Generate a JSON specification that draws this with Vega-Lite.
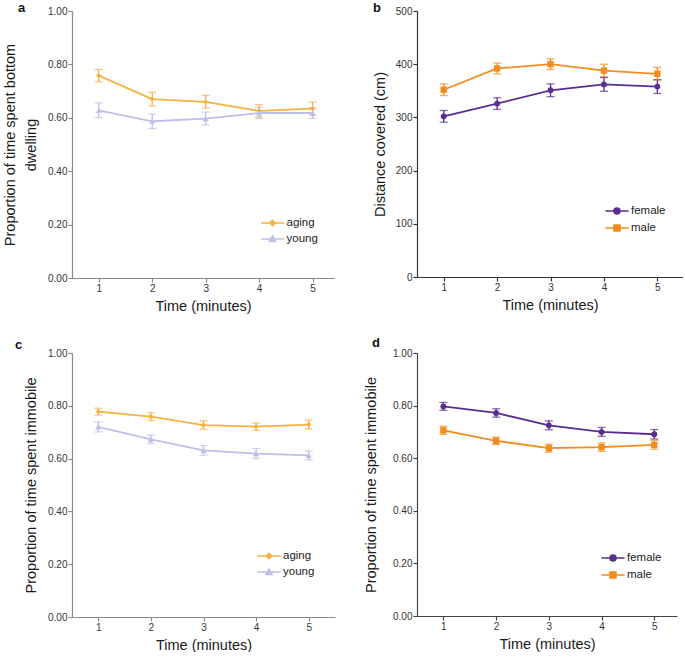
{
  "$schema": "https://vega.github.io/schema/vega-lite/v6.json",
  "padding": {"left": 2, "top": 2, "right": 0, "bottom": 0},
  "background": "white",
  "config": {
    "font": "Liberation Sans",
    "view": {"stroke": null},
    "axis": {"labelFont": "Liberation Sans", "labelFontSize": 10, "labelColor": "#333333", "titleFont": "Liberation Sans", "titleFontSize": 14.5, "titleFontWeight": "normal", "titleColor": "#1a1a1a", "tickSize": 4, "labelPadding": 1, "grid": false, "domainWidth": 1.2, "tickWidth": 1.2, "titleLineHeight": 20.6},
    "axisX": {"titlePadding": 6},
    "legend": {"labelFont": "Liberation Sans", "labelFontSize": 11.5, "labelColor": "#222222", "orient": "none", "title": null, "padding": 0, "rowPadding": 1, "symbolSize": 256, "symbolStrokeWidth": 1.5, "labelOffset": 5, "symbolOpacity": 1}
  },
  "data": {"values": [
    {"panel": "a", "time": 1, "group": "aging", "mean": 0.758, "lo": 0.735, "hi": 0.781},
    {"panel": "a", "time": 2, "group": "aging", "mean": 0.670, "lo": 0.644, "hi": 0.696},
    {"panel": "a", "time": 3, "group": "aging", "mean": 0.660, "lo": 0.636, "hi": 0.684},
    {"panel": "a", "time": 4, "group": "aging", "mean": 0.626, "lo": 0.603, "hi": 0.649},
    {"panel": "a", "time": 5, "group": "aging", "mean": 0.634, "lo": 0.609, "hi": 0.659},
    {"panel": "a", "time": 1, "group": "young", "mean": 0.628, "lo": 0.600, "hi": 0.656},
    {"panel": "a", "time": 2, "group": "young", "mean": 0.587, "lo": 0.560, "hi": 0.614},
    {"panel": "a", "time": 3, "group": "young", "mean": 0.597, "lo": 0.573, "hi": 0.621},
    {"panel": "a", "time": 4, "group": "young", "mean": 0.618, "lo": 0.597, "hi": 0.639},
    {"panel": "a", "time": 5, "group": "young", "mean": 0.618, "lo": 0.598, "hi": 0.638},
    {"panel": "b", "time": 1, "group": "female", "mean": 302, "lo": 291, "hi": 313},
    {"panel": "b", "time": 2, "group": "female", "mean": 326, "lo": 315, "hi": 337},
    {"panel": "b", "time": 3, "group": "female", "mean": 351, "lo": 339, "hi": 363},
    {"panel": "b", "time": 4, "group": "female", "mean": 362, "lo": 349, "hi": 375},
    {"panel": "b", "time": 5, "group": "female", "mean": 358, "lo": 345, "hi": 371},
    {"panel": "b", "time": 1, "group": "male", "mean": 352, "lo": 341, "hi": 363},
    {"panel": "b", "time": 2, "group": "male", "mean": 392, "lo": 382, "hi": 402},
    {"panel": "b", "time": 3, "group": "male", "mean": 400, "lo": 390, "hi": 410},
    {"panel": "b", "time": 4, "group": "male", "mean": 388, "lo": 376, "hi": 400},
    {"panel": "b", "time": 5, "group": "male", "mean": 382, "lo": 370, "hi": 394},
    {"panel": "c", "time": 1, "group": "aging", "mean": 0.778, "lo": 0.765, "hi": 0.791},
    {"panel": "c", "time": 2, "group": "aging", "mean": 0.759, "lo": 0.744, "hi": 0.774},
    {"panel": "c", "time": 3, "group": "aging", "mean": 0.727, "lo": 0.711, "hi": 0.743},
    {"panel": "c", "time": 4, "group": "aging", "mean": 0.721, "lo": 0.707, "hi": 0.735},
    {"panel": "c", "time": 5, "group": "aging", "mean": 0.729, "lo": 0.712, "hi": 0.746},
    {"panel": "c", "time": 1, "group": "young", "mean": 0.720, "lo": 0.701, "hi": 0.739},
    {"panel": "c", "time": 2, "group": "young", "mean": 0.673, "lo": 0.657, "hi": 0.689},
    {"panel": "c", "time": 3, "group": "young", "mean": 0.631, "lo": 0.613, "hi": 0.649},
    {"panel": "c", "time": 4, "group": "young", "mean": 0.619, "lo": 0.600, "hi": 0.638},
    {"panel": "c", "time": 5, "group": "young", "mean": 0.612, "lo": 0.595, "hi": 0.629},
    {"panel": "d", "time": 1, "group": "female", "mean": 0.797, "lo": 0.782, "hi": 0.812},
    {"panel": "d", "time": 2, "group": "female", "mean": 0.772, "lo": 0.756, "hi": 0.788},
    {"panel": "d", "time": 3, "group": "female", "mean": 0.725, "lo": 0.708, "hi": 0.742},
    {"panel": "d", "time": 4, "group": "female", "mean": 0.700, "lo": 0.683, "hi": 0.717},
    {"panel": "d", "time": 5, "group": "female", "mean": 0.691, "lo": 0.673, "hi": 0.709},
    {"panel": "d", "time": 1, "group": "male", "mean": 0.706, "lo": 0.691, "hi": 0.721},
    {"panel": "d", "time": 2, "group": "male", "mean": 0.666, "lo": 0.652, "hi": 0.680},
    {"panel": "d", "time": 3, "group": "male", "mean": 0.638, "lo": 0.623, "hi": 0.653},
    {"panel": "d", "time": 4, "group": "male", "mean": 0.642, "lo": 0.626, "hi": 0.658},
    {"panel": "d", "time": 5, "group": "male", "mean": 0.651, "lo": 0.634, "hi": 0.668}
  ]},
  "resolve": {"scale": {"color": "independent"}, "legend": {"color": "independent"}},
  "spacing": 24,
  "vconcat": [
    {
      "spacing": 38,
      "resolve": {"scale": {"color": "independent"}, "legend": {"color": "independent"}},
      "hconcat": [
        {
          "width": 262, "height": 267,
          "title": {"text": "a", "anchor": "start", "frame": "group", "dx": -54, "offset": -9, "fontSize": 13, "fontWeight": "bold", "color": "#111111"},
          "transform": [{"filter": "datum.panel === 'a'"}],
          "encoding": {
            "x": {"field": "time", "type": "quantitative", "scale": {"domain": [0.5, 5.4], "nice": false, "zero": false}, "axis": {"values": [1, 2, 3, 4, 5], "format": "d", "title": "Time (minutes)", "domainColor": "#8a8a8a", "tickColor": "#8a8a8a"}},
            "y": {"field": "mean", "type": "quantitative", "scale": {"domain": [0, 1], "nice": false}, "axis": {"values": [0, 0.2, 0.4, 0.6, 0.8, 1], "format": ".2f", "title": ["Proportion of time spent bottom", "dwelling"], "titlePadding": 9, "domainColor": "#8a8a8a", "tickColor": "#8a8a8a"}},
            "color": {"field": "group", "type": "nominal", "scale": {"domain": ["aging", "young"], "range": ["#F6B144", "#BCC0E8"]},
              "legend": {"legendX": 191.5, "legendY": 203, "encode": {"symbols": {"update": {
                "shape": {"signal": "datum.value === 'aging' ? 'M-1.45,0L1.45,0M0,-0.35L0.35,0L0,0.35L-0.35,0Z' : 'M-1.45,0L1.45,0M0,-0.4L0.4,0.3L-0.4,0.3Z'"},
                "fill": {"signal": "datum.value === 'aging' ? '#F6B144' : '#BCC0E8'"},
                "stroke": {"signal": "datum.value === 'aging' ? '#F6B144' : '#BCC0E8'"},
                "strokeWidth": {"value": 1.5}, "opacity": {"value": 1}}}}}}
          },
          "layer": [
            {"mark": {"type": "errorbar", "ticks": {"size": 8}, "thickness": 1.3},
             "encoding": {"y": {"field": "lo", "type": "quantitative", "scale": {"domain": [0, 1], "nice": false}, "axis": {"values": [0, 0.2, 0.4, 0.6, 0.8, 1], "format": ".2f", "title": ["Proportion of time spent bottom", "dwelling"], "titlePadding": 9, "domainColor": "#8a8a8a", "tickColor": "#8a8a8a"}}, "y2": {"field": "hi"}}},
            {"mark": {"type": "line", "strokeWidth": 1.8}},
            {"transform": [{"filter": "datum.group === 'aging'"}], "mark": {"type": "point", "filled": true, "opacity": 1, "shape": "diamond", "size": 28}},
            {"transform": [{"filter": "datum.group === 'young'"}], "mark": {"type": "point", "filled": true, "opacity": 1, "shape": "triangle-up", "size": 36}}
          ]
        },
        {
          "width": 266, "height": 266,
          "title": {"text": "b", "anchor": "start", "frame": "group", "dx": -44, "offset": -9, "fontSize": 13, "fontWeight": "bold", "color": "#111111"},
          "transform": [{"filter": "datum.panel === 'b'"}],
          "encoding": {
            "x": {"field": "time", "type": "quantitative", "scale": {"domain": [0.5, 5.48], "nice": false, "zero": false}, "axis": {"values": [1, 2, 3, 4, 5], "format": "d", "title": "Time (minutes)", "domainColor": "#333333", "tickColor": "#333333"}},
            "y": {"field": "mean", "type": "quantitative", "scale": {"domain": [0, 500], "nice": false}, "axis": {"values": [0, 100, 200, 300, 400, 500], "format": "d", "title": "Distance covered (cm)", "titlePadding": 8, "domainColor": "#333333", "tickColor": "#333333"}},
            "color": {"field": "group", "type": "nominal", "scale": {"domain": ["female", "male"], "range": ["#5B2D8E", "#F28C1E"]},
              "legend": {"legendX": 191, "legendY": 191, "encode": {"symbols": {"update": {
                "shape": {"signal": "datum.value === 'female' ? 'M-1.45,0L1.45,0M-0.38,0A0.38,0.38,0,1,0,0.38,0A0.38,0.38,0,1,0,-0.38,0Z' : 'M-1.45,0L1.45,0M-0.38,-0.38L0.38,-0.38L0.38,0.38L-0.38,0.38Z'"},
                "fill": {"signal": "datum.value === 'female' ? '#5B2D8E' : '#F28C1E'"},
                "stroke": {"signal": "datum.value === 'female' ? '#5B2D8E' : '#F28C1E'"},
                "strokeWidth": {"value": 1.5}, "opacity": {"value": 1}}}}}}
          },
          "layer": [
            {"mark": {"type": "errorbar", "ticks": {"size": 8}, "thickness": 1.3},
             "encoding": {"y": {"field": "lo", "type": "quantitative", "scale": {"domain": [0, 500], "nice": false}, "axis": {"values": [0, 100, 200, 300, 400, 500], "format": "d", "title": "Distance covered (cm)", "titlePadding": 8, "domainColor": "#333333", "tickColor": "#333333"}}, "y2": {"field": "hi"}}},
            {"mark": {"type": "line", "strokeWidth": 1.8}},
            {"transform": [{"filter": "datum.group === 'female'"}], "mark": {"type": "point", "filled": true, "opacity": 1, "shape": "circle", "size": 34}},
            {"transform": [{"filter": "datum.group === 'male'"}], "mark": {"type": "point", "filled": true, "opacity": 1, "shape": "square", "size": 40}}
          ]
        }
      ]
    },
    {
      "spacing": 28,
      "resolve": {"scale": {"color": "independent"}, "legend": {"color": "independent"}},
      "hconcat": [
        {
          "width": 263, "height": 264,
          "title": {"text": "c", "anchor": "start", "frame": "group", "dx": -57, "offset": -4, "fontSize": 13, "fontWeight": "bold", "color": "#111111"},
          "transform": [{"filter": "datum.panel === 'c'"}],
          "encoding": {
            "x": {"field": "time", "type": "quantitative", "scale": {"domain": [0.5, 5.5], "nice": false, "zero": false}, "axis": {"values": [1, 2, 3, 4, 5], "format": "d", "title": "Time (minutes)", "domainColor": "#8a8a8a", "tickColor": "#8a8a8a"}},
            "y": {"field": "mean", "type": "quantitative", "scale": {"domain": [0, 1], "nice": false}, "axis": {"values": [0, 0.2, 0.4, 0.6, 0.8, 1], "format": ".2f", "title": [" ", "Proportion of time spent immobile"], "titlePadding": 9, "domainColor": "#8a8a8a", "tickColor": "#8a8a8a"}},
            "color": {"field": "group", "type": "nominal", "scale": {"domain": ["aging", "young"], "range": ["#F6B144", "#BCC0E8"]},
              "legend": {"legendX": 188, "legendY": 194, "encode": {"symbols": {"update": {
                "shape": {"signal": "datum.value === 'aging' ? 'M-1.45,0L1.45,0M0,-0.35L0.35,0L0,0.35L-0.35,0Z' : 'M-1.45,0L1.45,0M0,-0.4L0.4,0.3L-0.4,0.3Z'"},
                "fill": {"signal": "datum.value === 'aging' ? '#F6B144' : '#BCC0E8'"},
                "stroke": {"signal": "datum.value === 'aging' ? '#F6B144' : '#BCC0E8'"},
                "strokeWidth": {"value": 1.5}, "opacity": {"value": 1}}}}}}
          },
          "layer": [
            {"mark": {"type": "errorbar", "ticks": {"size": 8}, "thickness": 1.3},
             "encoding": {"y": {"field": "lo", "type": "quantitative", "scale": {"domain": [0, 1], "nice": false}, "axis": {"values": [0, 0.2, 0.4, 0.6, 0.8, 1], "format": ".2f", "title": [" ", "Proportion of time spent immobile"], "titlePadding": 9, "domainColor": "#8a8a8a", "tickColor": "#8a8a8a"}}, "y2": {"field": "hi"}}},
            {"mark": {"type": "line", "strokeWidth": 1.8}},
            {"transform": [{"filter": "datum.group === 'aging'"}], "mark": {"type": "point", "filled": true, "opacity": 1, "shape": "diamond", "size": 28}},
            {"transform": [{"filter": "datum.group === 'young'"}], "mark": {"type": "point", "filled": true, "opacity": 1, "shape": "triangle-up", "size": 36}}
          ]
        },
        {
          "width": 260, "height": 263,
          "title": {"text": "d", "anchor": "start", "frame": "group", "dx": -45, "offset": -2, "fontSize": 13, "fontWeight": "bold", "color": "#111111"},
          "transform": [{"filter": "datum.panel === 'd'"}],
          "encoding": {
            "x": {"field": "time", "type": "quantitative", "scale": {"domain": [0.5, 5.43], "nice": false, "zero": false}, "axis": {"values": [1, 2, 3, 4, 5], "format": "d", "title": "Time (minutes)", "domainColor": "#444444", "tickColor": "#444444"}},
            "y": {"field": "mean", "type": "quantitative", "scale": {"domain": [0, 1], "nice": false}, "axis": {"values": [0, 0.2, 0.4, 0.6, 0.8, 1], "format": ".2f", "title": "Proportion of time spent immobile", "titlePadding": 14, "domainColor": "#444444", "tickColor": "#444444"}},
            "color": {"field": "group", "type": "nominal", "scale": {"domain": ["female", "male"], "range": ["#5B2D8E", "#F28C1E"]},
              "legend": {"legendX": 187, "legendY": 196, "encode": {"symbols": {"update": {
                "shape": {"signal": "datum.value === 'female' ? 'M-1.45,0L1.45,0M-0.38,0A0.38,0.38,0,1,0,0.38,0A0.38,0.38,0,1,0,-0.38,0Z' : 'M-1.45,0L1.45,0M-0.38,-0.38L0.38,-0.38L0.38,0.38L-0.38,0.38Z'"},
                "fill": {"signal": "datum.value === 'female' ? '#5B2D8E' : '#F28C1E'"},
                "stroke": {"signal": "datum.value === 'female' ? '#5B2D8E' : '#F28C1E'"},
                "strokeWidth": {"value": 1.5}, "opacity": {"value": 1}}}}}}
          },
          "layer": [
            {"mark": {"type": "errorbar", "ticks": {"size": 8}, "thickness": 1.3},
             "encoding": {"y": {"field": "lo", "type": "quantitative", "scale": {"domain": [0, 1], "nice": false}, "axis": {"values": [0, 0.2, 0.4, 0.6, 0.8, 1], "format": ".2f", "title": "Proportion of time spent immobile", "titlePadding": 14, "domainColor": "#444444", "tickColor": "#444444"}}, "y2": {"field": "hi"}}},
            {"mark": {"type": "line", "strokeWidth": 1.8}},
            {"transform": [{"filter": "datum.group === 'female'"}], "mark": {"type": "point", "filled": true, "opacity": 1, "shape": "circle", "size": 34}},
            {"transform": [{"filter": "datum.group === 'male'"}], "mark": {"type": "point", "filled": true, "opacity": 1, "shape": "square", "size": 40}}
          ]
        }
      ]
    }
  ]
}
